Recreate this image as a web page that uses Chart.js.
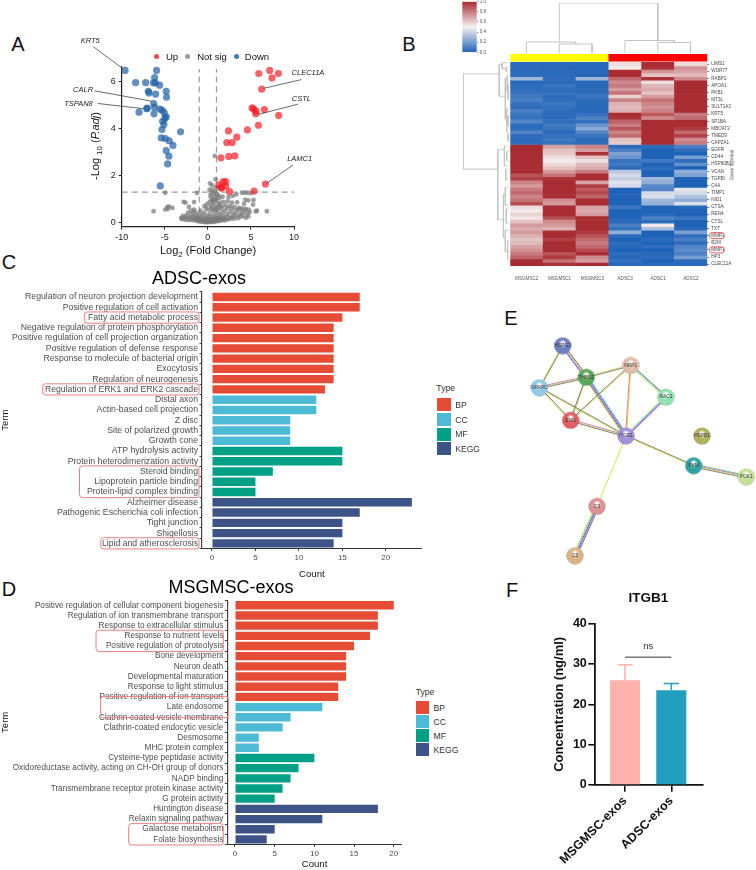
<!DOCTYPE html>
<html>
<head>
<meta charset="utf-8">
<title>Exosome figure</title>
<script src="https://cdn.jsdelivr.net/npm/chart.js@4"></script>
<style>
  html, body { margin: 0; padding: 0; background: #fff; }
  #page { position: relative; width: 756px; height: 870px; overflow: hidden; font-family: "Liberation Sans", Arial, sans-serif; }
  #page canvas { position: absolute; }
  .txt { position: absolute; white-space: nowrap; line-height: 1; transform: translate(-50%, -50%); color: #111; }
  .txt sub { font-size: 0.72em; }
  .box { position: absolute; }
</style>
</head>
<body>
<div id="page"></div>
<script>
// Panel A - volcano
var upPoints = [[7.18,6.49],[5.91,6.36],[8.19,6.36],[7.45,6.17],[6.25,5.69],[5.14,4.89],[5.33,4.84],[5.6,4.75],[5.56,4.64],[6.56,4.82],[8.22,4.57],[5.87,4.15],[4.59,3.95],[2.39,3.91],[3.36,3.64],[2.2,3.41],[2.82,3.41],[1.51,2.76],[2.43,2.82],[3.13,2.84],[6.68,1.64],[1.78,1.74],[2.08,1.75],[1.27,1.61],[2.08,1.55],[1.51,1.48],[1.62,1.47],[2.51,1.32],[5.37,1.34]];
var downPoints = [[-9.61,6.49],[-5.95,6.49],[-6.18,6.19],[-8.38,5.97],[-7.22,5.97],[-6.33,5.96],[-6.1,5.96],[-5.6,5.86],[-6.91,5.6],[-6.83,5.53],[-4.83,5.6],[-6.06,5.48],[-4.79,5.35],[-6.29,5.08],[-6.18,4.91],[-7.03,4.88],[-7.1,4.86],[-5.56,4.84],[-5.29,4.79],[-7.99,4.71],[-6.25,4.64],[-5.06,4.68],[-4.83,4.51],[-4.98,4.44],[-5.25,4.32],[-5.1,4.18],[-5.33,3.97],[-3.17,3.87],[-5.41,3.61],[-4.94,3.58],[-4.48,3.49],[-4.05,3.29],[-4.83,3.07],[-4.52,2.83],[-4.67,2.5],[-5.52,1.56]];
var notSigPoints = [[0.8,2.84],[0.9,1.85],[0.25,1.67],[0.5,1.58],[0.95,1.5],[0.2,1.4],[0.55,1.38],[0.85,1.32],[-1.25,1.26],[-4.95,1.27],[0.35,1.25],[0.65,1.2],[1.05,1.22],[1.2,1.15],[0.3,1.12],[0.75,1.08],[1.0,1.02],[0.45,0.98],[1.35,1.05],[1.7,1.1],[2.4,1.08],[2.9,1.14],[3.3,1.2],[3.95,1.27],[4.3,1.27],[4.6,1.27],[5.0,1.25],[4.35,0.98],[4.7,0.94],[5.3,0.96],[5.25,0.76],[4.2,0.8],[3.4,0.86],[2.8,0.85],[2.3,0.9],[1.8,0.88],[1.4,0.85],[0.95,0.9],[0.6,0.85],[0.2,0.88],[-0.1,0.78],[-0.4,0.7],[0.35,0.72],[0.8,0.72],[1.25,0.7],[1.65,0.68],[2.05,0.72],[2.6,0.7],[3.1,0.66],[3.6,0.62],[4.0,0.6],[4.4,0.58],[4.75,0.55],[5.55,0.47],[6.85,0.48],[-2.8,0.88],[-2.6,0.85],[-1.6,0.87],[-6.3,0.48],[-4.95,0.55],[-4.7,0.66],[-4.5,0.68],[-4.1,0.62],[-4.65,0.58],[-2.2,0.66],[-1.6,0.55],
  [-3.1,0.2],[-3.0,0.14],[-2.9,0.28],[-2.7,0.18],[-2.6,0.12],[-2.5,0.3],[-2.4,0.2],[-2.3,0.42],[-2.25,0.1],[-2.1,0.24],[-2.0,0.16],[-1.95,0.5],[-1.85,0.34],[-1.8,0.1],[-1.7,0.22],[-1.6,0.14],[-1.55,0.46],[-1.5,0.3],[-1.4,0.08],[-1.35,0.2],[-1.3,0.13],[-1.2,0.38],[-1.15,0.06],[-1.1,0.17],[-1.0,0.26],[-0.95,0.1],[-0.9,0.04],[-0.85,0.5],[-0.8,0.16],[-0.75,0.07],[-0.7,0.33],[-0.6,0.03],[-0.55,0.12],[-0.5,0.22],[-0.45,0.06],[-0.4,0.42],[-0.35,0.02],[-0.3,0.1],[-0.25,0.16],[-0.2,0.04],[-0.15,0.28],[-0.1,0.01],[-0.05,0.08],[0,0.14],[0.05,0.03],[0.1,0.2],[0.15,0.06],[0.2,0.36],[0.25,0.02],[0.3,0.12],[0.35,0.05],[0.4,0.24],[0.45,0.09],[0.5,0.02],[0.55,0.5],[0.6,0.15],[0.65,0.06],[0.7,0.3],[0.75,0.03],[0.8,0.1],[0.85,0.2],[0.9,0.6],[0.95,0.08],[1.0,0.42],[1.05,0.14],[1.1,0.05],[1.15,0.26],[1.2,0.55],[1.25,0.1],[1.3,0.18],[1.4,0.36],[1.45,0.07],[1.5,0.62],[1.55,0.22],[1.6,0.12],[1.7,0.44],[1.75,0.16],[1.85,0.28],[1.9,0.08],[2.0,0.52],[2.05,0.2],[2.15,0.12],[2.25,0.36],[2.3,0.62],[2.4,0.24],[2.5,0.14],[2.6,0.45],[2.7,0.2],[2.8,0.58],[2.9,0.3],[3.0,0.16],[3.1,0.4],[3.25,0.26],[3.35,0.52],[3.5,0.18],[3.6,0.34],[3.7,0.56],[3.85,0.24],[3.95,0.42],[4.1,0.3],[4.25,0.5],[4.4,0.2],[4.55,0.38],[4.7,0.26],[4.85,0.44],[5.7,0.5],[0.1,0.55],[0.4,0.62],[-0.2,0.6],[0.75,0.55],[1.3,0.75],[0.6,0.95]];
var volcanoCutoffs = { fcLow: -1, fcHigh: 1, padj: 1.3, xFrom: -10, xTo: 10, yFrom: 0, yTo: 6.55 };
var geneNotes = [
  { gene: 'KRT5', text: [-13.65, 7.75], from: [-13.28, 7.5], to: [-9.88, 6.57] },
  { gene: 'CALR', text: [-14.48, 5.65], from: [-13.17, 5.62], to: [-6.53, 5.18] },
  { gene: 'TSPAN8', text: [-15.02, 5.08], from: [-12.78, 5.08], to: [-7.49, 4.86] },
  { gene: 'CLEC11A', text: [11.62, 6.4], from: [10.85, 6.1], to: [6.41, 5.72] },
  { gene: 'CSTL', text: [10.85, 5.26], from: [10.46, 5.05], to: [5.83, 4.61] },
  { gene: 'LAMC1', text: [10.66, 2.7], from: [9.88, 2.45], to: [6.8, 1.66] }
];
var volcanoXTicks = [-10, -5, 0, 5, 10];
var volcanoYTicks = [0, 2, 4, 6];

// Panel B - heatmap
var sampleLabels = ['MSGMSC2', 'MSGMSC1', 'MSGMSC3', 'ADSC3', 'ADSC1', 'ADSC2'];
var geneLabels = ['LIMS1','WDR77','RABP1','APOA1','PKB1','MT3L','SULT1A3','KRT5','SP1BA','MBOAT2','TMED9','CAPZA1','EGFR','CD44','HSP90B1','VCAN','TGFBI','C4A','TIMP1','NID1','CTSA','REN4','CTSL','TXT','MMP1','B2M','MMP1','HP3','CLEC11A'];
var cellsMSG2 = [.03,.03,.02,.03,.3,.02,.03,.04,.05,.08,.1,.05,.03,.1,.07,.05,.12,.03,.03,.12,.04,.03,.04, 1,1,1,1,1,1,1,1,.9,.95,.78,.72,.8,.85,.78,.82,.92,.55,.52,.58,.53,.62,.72,.68,.72,.66,.62,.64,.7,.74,.8,.86,1,1];
var cellsMSG1 = [.03,.02,.02,.03,.04,.02,.06,.03,.05,.03,.04,.07,.05,.03,.03,.03,.04,.08,.06,.03,.05,.08,.05, .7,.62,.6,.55,.52,.56,.62,.72,.82,.98,1,1,1,1,1,.75,.72,1,1,1,.92,.76,.72,.66,1,1,.95,1,1,1,.9,.96,.82,.98];
var cellsMSG3 = [.02,.02,.02,.02,.3,.02,.02,.03,.03,.06,.03,.02,.02,.02,.05,.1,.05,.18,.25,.12,.06,.03,.04, .78,.72,.98,.62,.55,.64,.68,.8,1,1,.7,.95,.88,.93,.85,1,1,.7,.68,.72,1,1,1,1,.96,.9,.84,.8,.84,.92,1,.76,.72,1];
var cellsADSC3 = [.55,.52,1,1,.85,.76,.8,.72,.82,.58,.78,.66,.64,.66,1,.98,.86,.8,.9,.78,.84,.62,.6, .03,.1,.22,.18,.05,.08,.03,.36,.42,.38,.45,.42,0,0,0,0,0,.07,0,0,0,.02,.1,.05,.27,.03,0,.03,.02,0,.03,.02,.05,.02];
var cellsADSC1 = [1,.98,.74,.62,.98,.55,.65,.68,.62,.72,.82,.78,.74,.78,.88,.76,1,1,1,1,1,1,1, .03,0,0,0,.08,0,.02,0,0,.3,.26,.13,.12,.42,.44,.3,.28,0,0,.02,.1,.03,.52,.33,0,0,.03,0,.04,0,.02,.03,0,.02];
var cellsADSC2 = [.56,.74,.7,.64,.76,1,1,1,1,1,1,1,1,1,.8,.84,1,1,.96,.84,.94,.76,.8, .1,.04,0,.2,.04,.16,0,.26,.22,0,0,0,.46,.42,.34,.26,.44,.02,0,0,.06,0,0,.02,.22,.04,.1,.04,.12,.14,.1,.2,.03,.02];
var heatColumns = [cellsMSG2, cellsMSG1, cellsMSG3, cellsADSC3, cellsADSC1, cellsADSC2];
var groupColours = ['#ffff00', '#ffff00', '#ffff00', '#ff0000', '#ff0000', '#ff0000'];
var colourbarTicks = [0, 0.2, 0.4, 0.6, 0.8, 1];
var highlightedGeneRows = [24, 26];
var sampleTree = [
  [[1.5, 0.22], [1.5, 1], [4.5, 1], [4.5, 0.25]],
  [[0.5, 0], [0.5, 0.22], [2, 0.22], [2, 0.18]],
  [[1.5, 0], [1.5, 0.18], [2.5, 0.18], [2.5, 0]],
  [[3.5, 0], [3.5, 0.25], [5, 0.25], [5, 0.21]],
  [[4.5, 0], [4.5, 0.21], [5.5, 0.21], [5.5, 0]]
];
var geneTree = [
  [[0.23, 3.3], [1, 3.3], [1, 29.9], [0.26, 29.9]],
  [[0.17, 0.7], [0.23, 0.7], [0.23, 9.6], [0.1, 9.6]],
  [[0.07, 0.2], [0.17, 0.2], [0.17, 1.9], [0.08, 1.9]],
  [[0.05, 1.4], [0.08, 1.4], [0.08, 2.6], [0.05, 2.6]],
  [[0.06, 4.5], [0.1, 4.5], [0.1, 16], [0.07, 16]],
  [[0.03, 3.8], [0.06, 3.8], [0.06, 8.5], [0.04, 8.5]],
  [[0.02, 6.5], [0.04, 6.5], [0.04, 10.5], [0.02, 10.5]],
  [[0.04, 13], [0.07, 13], [0.07, 19.5], [0.04, 19.5]],
  [[0.02, 15], [0.04, 15], [0.04, 18], [0.02, 18]],
  [[0.02, 20], [0.04, 20], [0.04, 22], [0.02, 22]],
  [[0.12, 24.5], [0.26, 24.5], [0.26, 44], [0.14, 44]],
  [[0.07, 23.5], [0.12, 23.5], [0.12, 29], [0.05, 29]],
  [[0.03, 25], [0.07, 25], [0.07, 27.5], [0.03, 27.5]],
  [[0.05, 30], [0.09, 30], [0.09, 33], [0.05, 33]],
  [[0.1, 37], [0.14, 37], [0.14, 49], [0.1, 49]],
  [[0.04, 35], [0.1, 35], [0.1, 40], [0.04, 40]],
  [[0.04, 41], [0.08, 41], [0.08, 45], [0.04, 45]],
  [[0.03, 47], [0.1, 47], [0.1, 53], [0.03, 53]],
  [[0.02, 50], [0.05, 50], [0.05, 55], [0.02, 55]]
];

// Panel C / D - enrichment bars
var typeNames = ['BP', 'CC', 'MF', 'KEGG'];
var typeColours = ['#e64b35', '#4dbbd5', '#00a087', '#3c5488'];
var adscTerms = ['Regulation of neuron projection development','Positive regulation of cell activation','Fatty acid metabolic process','Negative regulation of protein phosphorylation','Positive regulation of cell projection organization','Positive regulation of defense response','Response to molecule of bacterial origin','Exocytosis','Regulation of neurogenesis','Regulation of ERK1 and ERK2 cascade','Distal axon','Actin-based cell projection','Z disc','Site of polarized growth','Growth cone','ATP hydrolysis activity','Protein heterodimerization activity','Steroid binding','Lipoprotein particle binding','Protein-lipid complex binding','Alzheimer disease','Pathogenic Escherichia coli infection','Tight junction','Shigellosis','Lipid and atherosclerosis'];
var adscCounts = [17,17,15,14,14,14,14,14,14,13,12,12,9,9,9,15,15,7,5,5,23,17,15,15,14];
var adscTypes = [0,0,0,0,0,0,0,0,0,0,1,1,1,1,1,2,2,2,2,2,3,3,3,3,3];
var msgTerms = ['Positive regulation of cellular component biogenesis','Regulation of ion transmembrane transport','Response to extracellular stimulus','Response to nutrient levels','Positive regulation of proteolysis','Bone development','Neuron death','Developmental maturation','Response to light stimulus','Positive regulation of ion transport','Late endosome','Clathrin-coated vesicle membrane','Clathrin-coated endocytic vesicle','Desmosome','MHC protein complex','Cysteine-type peptidase activity','Oxidoreductase activity, acting on CH-OH group of donors','NADP binding','Transmembrane receptor protein kinase activity','G protein activity','Huntington disease','Relaxin signaling pathway','Galactose metabolism','Folate biosynthesis'];
var msgCounts = [20,18,18,17,15,14,14,14,13,13,11,7,6,3,3,10,8,7,6,5,18,11,5,4];
var msgTypes = [0,0,0,0,0,0,0,0,0,0,1,1,1,1,1,2,2,2,2,2,3,3,3,3];
var adscCountTicks = [0, 5, 10, 15, 20];
var msgCountTicks = [0, 5, 10, 15, 20];
var adscMarked = [[2, 2, 84.3], [9, 9, 42.7], [17, 19, 79.5], [24, 24, 100.7]];
var msgMarked = [[3, 4, 96, 223.3], [9.5, 10.5, 100.7, 228.3], [22, 23, 128.7, 223.3]];

// Panel E - network
var nodeNames = ['HSPG2','THBS1','NRP1','SPARC','RAC1','ENG','ITGB1','HSPB1','PKM','PGK1','C3','C5'];
var nodeX = [188,259,392,118,498,212,378,606,581,739,291,225];
var nodeY = [137,232,196,263,291,361,408,408,497,530,619,767];
var nodeColours = ['#6f7fc4','#58a858','#e2bcab','#92c8ea','#92e2b2','#e25a62','#a392da','#b2b25e','#2fa3a3','#c2e296','#da9292','#dab284'];
var edges = [
  ['HSPG2','SPARC',['#666','#c8dc4a']],
  ['HSPG2','THBS1',['#555','#c8dc4a','#c868d8','#5050c8']],
  ['SPARC','THBS1',['#c868d8','#c8dc4a','#777']],
  ['THBS1','NRP1',['#c8dc4a','#777']],
  ['THBS1','ENG',['#c8dc4a','#666']],
  ['THBS1','ITGB1',['#50c8e0','#5050c8','#c868d8','#555','#c8dc4a']],
  ['SPARC','ENG',['#666','#c8dc4a']],
  ['SPARC','ITGB1',['#666','#c8dc4a']],
  ['ENG','NRP1',['#666','#c8dc4a']],
  ['ENG','ITGB1',['#c868d8','#c8dc4a','#777']],
  ['NRP1','ITGB1',['#c8dc4a','#f07070']],
  ['NRP1','RAC1',['#666','#50c8e0','#c8dc4a']],
  ['RAC1','ITGB1',['#c868d8','#5050c8','#50c8e0','#c8dc4a']],
  ['ITGB1','PKM',['#666','#c8dc4a']],
  ['ITGB1','C3',['#c8dc4a']],
  ['C3','C5',['#5050c8','#c868d8','#666','#50c8e0','#c8dc4a']],
  ['PKM','PGK1',['#58c078','#c868d8','#c8dc4a','#777']]
];

// Panel F - ITGB1 bars
var itgbCategories = ['MSGMSC-exos', 'ADSC-exos'];
var itgbValues = [26, 23.5];
var itgbErrorTops = [29.8, 25.2];
var itgbColours = ['#ffb1ac', '#229fbe'];
var itgbTicks = [0, 10, 20, 30, 40];

var BASE_FONT = '"Liberation Sans", Arial, sans-serif';
var page = document.getElementById('page');

function addCanvas(left, top, width, height) {
  var c = document.createElement('canvas');
  c.width = width;
  c.height = height;
  c.style.left = left + 'px';
  c.style.top = top + 'px';
  c.style.width = width + 'px';
  c.style.height = height + 'px';
  page.appendChild(c);
  return c;
}

function addText(html, x, y, size, extra) {
  var d = document.createElement('div');
  d.className = 'txt';
  d.innerHTML = html;
  d.style.left = x + 'px';
  d.style.top = y + 'px';
  d.style.fontSize = size + 'px';
  if (extra) {
    Object.keys(extra).forEach(function (k) { d.style[k] = extra[k]; });
  }
  page.appendChild(d);
  return d;
}

function addBox(x, y, w, h, colour, round) {
  var d = document.createElement('div');
  d.className = 'box';
  d.style.left = x + 'px';
  d.style.top = y + 'px';
  d.style.width = w + 'px';
  d.style.height = h + 'px';
  d.style.background = colour;
  if (round) d.style.borderRadius = '50%';
  page.appendChild(d);
}

function setTicks(values) {
  return function (scale) {
    scale.ticks = values.map(function (v) { return { value: v }; });
  };
}

// fixed axis boxes so the plot areas land where the figure has them
function fixWidth(w) {
  return function (scale) {
    scale.width = w;
    scale.paddingTop = 0;
    scale.paddingBottom = 0;
  };
}
function fixHeight(h) {
  return function (scale) {
    scale.height = h;
    scale.paddingLeft = 0;
    scale.paddingRight = 0;
  };
}

function heatColour(v) {
  var low = [31, 99, 184], mid = [246, 241, 241], high = [168, 44, 50];
  var a = v < 0.5 ? low : mid;
  var b = v < 0.5 ? mid : high;
  var t = v < 0.5 ? v / 0.5 : (v - 0.5) / 0.5;
  return 'rgb(' + a.map(function (c, i) { return Math.round(c + (b[i] - c) * t); }).join(',') + ')';
}

// panel letters
addText('A', 18, 44, 20);
addText('B', 409, 44, 20);
addText('C', 9, 262, 20);
addText('D', 9, 589, 20);
addText('E', 511, 318, 20);
addText('F', 512, 590, 20);

// ---- A ----
var noteTextPlugin = {
  id: 'noteText',
  afterDatasetsDraw: function (chart) {
    var ctx = chart.ctx;
    ctx.save();
    ctx.font = 'italic 7.5px ' + BASE_FONT;
    ctx.fillStyle = '#222';
    ctx.textAlign = 'center';
    ctx.textBaseline = 'middle';
    geneNotes.forEach(function (n) {
      ctx.fillText(n.gene, chart.scales.x.getPixelForValue(n.text[0]), chart.scales.y.getPixelForValue(n.text[1]));
    });
    ctx.restore();
  }
};

function toXY(p) { return { x: p[0], y: p[1] }; }

function volcanoDots(points, colour, radius, order) {
  return { data: points.map(toXY), backgroundColor: colour, borderWidth: 0, pointRadius: radius, order: order, clip: false };
}

function guide(points) {
  return { data: points, showLine: true, pointRadius: 0, borderColor: '#9a9a9a', borderWidth: 1.2, borderDash: [6, 4], order: 4, clip: false };
}

var volcanoSets = [
  volcanoDots(upPoints, 'rgba(248,24,32,0.68)', 3.6, 1),
  volcanoDots(downPoints, 'rgba(30,96,164,0.7)', 3.6, 1),
  volcanoDots(notSigPoints, 'rgba(122,122,122,0.72)', 2.4, 2),
  guide([{ x: volcanoCutoffs.fcLow, y: volcanoCutoffs.yFrom }, { x: volcanoCutoffs.fcLow, y: volcanoCutoffs.yTo }]),
  guide([{ x: volcanoCutoffs.fcHigh, y: volcanoCutoffs.yFrom }, { x: volcanoCutoffs.fcHigh, y: volcanoCutoffs.yTo }]),
  guide([{ x: volcanoCutoffs.xFrom, y: volcanoCutoffs.padj }, { x: volcanoCutoffs.xTo, y: volcanoCutoffs.padj }])
];
geneNotes.forEach(function (n) {
  volcanoSets.push({ data: [toXY(n.from), toXY(n.to)], showLine: true, pointRadius: 0, borderColor: '#444', borderWidth: 0.8, order: 0, clip: false });
});

new Chart(addCanvas(0, 20, 330, 230), {
  type: 'scatter',
  data: { datasets: volcanoSets },
  options: {
    responsive: false,
    animation: false,
    layout: { autoPadding: false, padding: { top: 46.7, right: 36, left: 0, bottom: 0 } },
    plugins: { legend: { display: false }, tooltip: { enabled: false } },
    scales: {
      x: {
        min: -10, max: 10,
        afterBuildTicks: setTicks(volcanoXTicks),
        afterFit: fixHeight(23.3),
        grid: { display: true, drawOnChartArea: false, drawTicks: true, tickLength: 3, color: '#222' },
        border: { display: true, color: '#222', width: 1.2 },
        ticks: { color: '#222', font: { size: 9, family: BASE_FONT }, padding: 2, maxRotation: 0, callback: function (v) { return String(v); } }
      },
      y: {
        min: -0.18, max: 6.65,
        afterBuildTicks: setTicks(volcanoYTicks),
        afterFit: fixWidth(121.7),
        grid: { display: true, drawOnChartArea: false, drawTicks: true, tickLength: 3, color: '#222' },
        border: { display: true, color: '#222', width: 1.2 },
        ticks: { color: '#222', font: { size: 9, family: BASE_FONT }, padding: 3, callback: function (v) { return String(v); } }
      }
    }
  },
  plugins: [noteTextPlugin]
});
addText('-Log <sub>10</sub> (<i>P.adj</i>)', 97, 146, 11, { transform: 'translate(-50%, -50%) rotate(-90deg)' });
addText('Log<sub>2</sub> (Fold Change)', 208, 252, 11);
addBox(154, 54, 5.4, 5.4, '#f4494f', true);
addText('Up', 172, 57, 9.5);
addBox(185, 54, 5.4, 5.4, '#9a9a9a', true);
addText('Not sig', 212, 57, 9.5);
addBox(233.6, 54, 5.4, 5.4, '#3f7ab5', true);
addText('Down', 257, 57, 9.5);

// ---- B ----
var heatSets = [];
heatSets.push({
  data: sampleLabels.map(function () { return [-2.32, -0.28]; }),
  backgroundColor: groupColours,
  grouped: false, barPercentage: 1, categoryPercentage: 1, borderWidth: 0
});
heatColumns[0].forEach(function (_, row) {
  heatSets.push({
    data: heatColumns.map(function () { return [row, row + 1]; }),
    backgroundColor: heatColumns.map(function (col) { return heatColour(col[row]); }),
    grouped: false, barPercentage: 1, categoryPercentage: 1, borderWidth: 0
  });
});

var markedGenesPlugin = {
  id: 'markedGenes',
  afterDraw: function (chart) {
    var ctx = chart.ctx;
    ctx.save();
    ctx.strokeStyle = '#f06060';
    ctx.lineWidth = 1;
    highlightedGeneRows.forEach(function (i) {
      var y = chart.scales.y.getPixelForValue(i * 2 + 0.5);
      ctx.beginPath();
      ctx.roundRect(chart.chartArea.right + 2.4, y - 3, 14.4, 6, 2);
      ctx.stroke();
    });
    ctx.restore();
  }
};

new Chart(addCanvas(500, 50, 256, 235), {
  type: 'bar',
  data: { labels: sampleLabels, datasets: heatSets },
  options: {
    responsive: false,
    animation: false,
    layout: { autoPadding: false, padding: { left: 10.3, top: 4, right: 0, bottom: 0 } },
    plugins: { legend: { display: false }, tooltip: { enabled: false } },
    scales: {
      x: {
        afterFit: fixHeight(19),
        grid: { display: false },
        border: { display: false },
        ticks: { color: '#555', font: { size: 4.6, family: BASE_FONT }, padding: 2, maxRotation: 0, autoSkip: false }
      },
      y: {
        position: 'right',
        reverse: true,
        min: -2.32, max: 57,
        afterBuildTicks: setTicks(geneLabels.map(function (g, i) { return i * 2 + 0.5; })),
        afterFit: fixWidth(48.7),
        grid: { display: true, drawOnChartArea: false, drawTicks: true, tickLength: 2, color: '#888' },
        border: { display: false },
        ticks: { color: '#444', font: { size: 4.6, family: BASE_FONT }, padding: 2, autoSkip: false, callback: function (v, i) { return geneLabels[i]; } }
      }
    }
  },
  plugins: [markedGenesPlugin]
});
addText('Gene Symbol', 731.7, 165, 5, { transform: 'translate(-50%, -50%) rotate(-90deg)', color: '#444' });

// colour bar
new Chart(addCanvas(455, 0, 45, 58), {
  type: 'bar',
  data: {
    labels: ['scale'],
    datasets: [{
      data: [[0, 1]],
      barPercentage: 1, categoryPercentage: 1, borderWidth: 0,
      backgroundColor: function (c) {
        var a = c.chart.chartArea;
        if (!a) return '#888';
        var g = c.chart.ctx.createLinearGradient(0, a.bottom, 0, a.top);
        [0, 0.25, 0.5, 0.75, 1].forEach(function (s) { g.addColorStop(s, heatColour(s)); });
        return g;
      }
    }]
  },
  options: {
    responsive: false,
    animation: false,
    layout: { autoPadding: false, padding: { left: 7.3, top: 1.7, right: 0, bottom: 5.7 } },
    plugins: { legend: { display: false }, tooltip: { enabled: false } },
    scales: {
      x: { display: false },
      y: {
        position: 'right',
        min: 0, max: 1,
        afterBuildTicks: setTicks(colourbarTicks),
        afterFit: fixWidth(23.3),
        grid: { display: true, drawOnChartArea: false, drawTicks: true, tickLength: 1.5, color: '#888' },
        border: { display: false },
        ticks: { color: '#555', font: { size: 4.6, family: BASE_FONT }, padding: 1.5, callback: function (v) { return v.toFixed(1); } }
      }
    }
  }
});

function treeChart(box, links, xOpts, yOpts) {
  new Chart(addCanvas(box[0], box[1], box[2], box[3]), {
    type: 'scatter',
    data: {
      datasets: links.map(function (link) {
        return { data: link.map(toXY), showLine: true, pointRadius: 0, borderColor: '#c4c4c4', borderWidth: 1, clip: false };
      })
    },
    options: {
      responsive: false,
      animation: false,
      layout: { autoPadding: false },
      plugins: { legend: { display: false }, tooltip: { enabled: false } },
      scales: {
        x: Object.assign({ display: false }, xOpts),
        y: Object.assign({ display: false }, yOpts)
      }
    }
  });
}
treeChart([510.3, 2.7, 197, 50.6], sampleTree, { min: 0, max: 6 }, { min: 0, max: 1 });
treeChart([463.3, 62.3, 47, 203.7], geneTree, { min: 0, max: 1, reverse: true }, { min: 0, max: 57, reverse: true });

// ---- C / D ----
var markedTermsPlugin = {
  id: 'markedTerms',
  afterDraw: function (chart) {
    var spec = chart.options.plugins.markedTerms;
    if (!spec) return;
    var ctx = chart.ctx, yScale = chart.scales.y;
    var left = chart.canvas.offsetLeft;
    ctx.save();
    ctx.strokeStyle = '#f27d7d';
    ctx.lineWidth = 1;
    spec.rows.forEach(function (r) {
      var top = yScale.getPixelForValue(r[0]) - 5.6;
      var bottom = yScale.getPixelForValue(r[1]) + 5.6;
      var x0 = r[2] - left;
      var x1 = (r[3] || spec.rightEdge) - left;
      ctx.beginPath();
      ctx.roundRect(x0, top, x1 - x0, bottom - top, 3);
      ctx.stroke();
    });
    ctx.restore();
  }
};

function termChart(box, area, terms, counts, types, marked, rightEdge, xMin, xMax, countTicks, fontSize) {
  new Chart(addCanvas(box[0], box[1], box[2], box[3]), {
    type: 'bar',
    data: {
      labels: terms,
      datasets: [{
        data: counts,
        backgroundColor: types.map(function (t) { return typeColours[t]; }),
        borderWidth: 0,
        barPercentage: 0.82,
        categoryPercentage: 1
      }]
    },
    options: {
      indexAxis: 'y',
      responsive: false,
      animation: false,
      layout: { autoPadding: false, padding: { top: area.top - box[1], right: box[0] + box[2] - area.right, left: 0, bottom: 0 } },
      plugins: {
        legend: { display: false },
        tooltip: { enabled: false },
        markedTerms: { rows: marked, rightEdge: rightEdge }
      },
      scales: {
        x: {
          min: xMin, max: xMax,
          afterBuildTicks: setTicks(countTicks),
          afterFit: fixHeight(box[1] + box[3] - area.bottom),
          grid: { display: true, drawOnChartArea: false, drawTicks: true, tickLength: 2.5, color: '#444' },
          border: { display: true, color: '#333', width: 1 },
          ticks: { color: '#4d4d4d', font: { size: 8, family: BASE_FONT }, padding: 1.5, maxRotation: 0, callback: function (v) { return String(v); } },
          title: { display: true, text: 'Count', color: '#111', font: { size: 9.6, family: BASE_FONT }, padding: { top: 2, bottom: 0 } }
        },
        y: {
          afterFit: fixWidth(area.left - box[0]),
          grid: { display: true, drawOnChartArea: false, drawTicks: true, tickLength: 2.5, color: '#444' },
          border: { display: true, color: '#444', width: 1.2 },
          ticks: { color: '#4d4d4d', font: { size: fontSize, family: BASE_FONT }, padding: 1.5, autoSkip: false },
          title: { display: true, text: 'Term', color: '#111', font: { size: 9.5, family: BASE_FONT }, padding: 0 }
        }
      }
    },
    plugins: [markedTermsPlugin]
  });
}

termChart([0, 285, 430, 295], { left: 202, right: 421.7, top: 291.9, bottom: 548.5 }, adscTerms, adscCounts, adscTypes, adscMarked, 199, -1.15, 24.13, adscCountTicks, 8.7);
termChart([0, 595, 410, 275], { left: 227.3, right: 401.7, top: 600.2, bottom: 844.5 }, msgTerms, msgCounts, msgTypes, msgMarked, 223.3, -0.97, 21, msgCountTicks, 8.2);

addText('ADSC-exos', 199, 278, 18, { color: '#000' });
addText('MSGMSC-exos', 231, 587, 18, { color: '#000' });

function typeLegend(x, titleY, swatchTops, swatchH, swatchW) {
  addText('Type', x + 9, titleY, 8.6, { color: '#333' });
  typeNames.forEach(function (name, i) {
    addBox(x, swatchTops[i], swatchW, swatchH, typeColours[i]);
    addText(name, x + swatchW + 4.5, swatchTops[i] + swatchH / 2, 8.6, { color: '#333', transform: 'translate(0, -50%)' });
  });
}
typeLegend(436.7, 388, [398.3, 413, 427.7, 442.3], 13.2, 14);
typeLegend(416, 692, [701.3, 715.3, 729.3, 743.3], 13, 13);

// ---- E ----
function sphere(colour) {
  var s = document.createElement('canvas');
  s.width = 18;
  s.height = 18;
  var c = s.getContext('2d');
  var g = c.createRadialGradient(9, 6, 1, 9, 9, 9);
  g.addColorStop(0, '#ffffff');
  g.addColorStop(0.4, colour);
  g.addColorStop(0.88, colour);
  g.addColorStop(1, '#666666');
  c.fillStyle = g;
  c.beginPath();
  c.arc(9, 9, 8.6, 0, Math.PI * 2);
  c.fill();
  return s;
}

var networkPlugin = {
  id: 'networkEdges',
  beforeDatasetsDraw: function (chart) {
    var ctx = chart.ctx, sx = chart.scales.x, sy = chart.scales.y;
    ctx.save();
    ctx.lineWidth = 0.9;
    edges.forEach(function (e) {
      var a = nodeNames.indexOf(e[0]), b = nodeNames.indexOf(e[1]);
      var x0 = sx.getPixelForValue(nodeX[a]), y0 = sy.getPixelForValue(nodeY[a]);
      var x1 = sx.getPixelForValue(nodeX[b]), y1 = sy.getPixelForValue(nodeY[b]);
      var len = Math.hypot(x1 - x0, y1 - y0);
      var nx = -(y1 - y0) / len, ny = (x1 - x0) / len;
      e[2].forEach(function (col, i) {
        var off = (i - (e[2].length - 1) / 2) * 0.9;
        ctx.strokeStyle = col;
        ctx.beginPath();
        ctx.moveTo(x0 + nx * off, y0 + ny * off);
        ctx.lineTo(x1 + nx * off, y1 + ny * off);
        ctx.stroke();
      });
    });
    ctx.restore();
  },
  afterDatasetsDraw: function (chart) {
    var ctx = chart.ctx, sx = chart.scales.x, sy = chart.scales.y;
    ctx.save();
    ctx.font = '4.8px ' + BASE_FONT;
    ctx.fillStyle = '#333';
    ctx.textAlign = 'center';
    ctx.textBaseline = 'middle';
    nodeNames.forEach(function (n, i) {
      ctx.fillText(n, sx.getPixelForValue(nodeX[i]), sy.getPixelForValue(nodeY[i]));
    });
    ctx.restore();
  }
};

new Chart(addCanvas(500, 300, 256, 280), {
  type: 'scatter',
  data: {
    datasets: [{
      data: nodeNames.map(function (n, i) { return { x: nodeX[i], y: nodeY[i] }; }),
      pointStyle: nodeColours.map(sphere),
      pointRadius: 9,
      clip: false
    }]
  },
  options: {
    responsive: false,
    animation: false,
    layout: { autoPadding: false },
    plugins: { legend: { display: false }, tooltip: { enabled: false } },
    scales: {
      x: { display: false, min: 0, max: 768 },
      y: { display: false, min: 0, max: 840, reverse: true }
    }
  },
  plugins: [networkPlugin]
});

// ---- F ----
var errorBarsPlugin = {
  id: 'errorBars',
  beforeDatasetsDraw: function (chart) {
    var ctx = chart.ctx, sx = chart.scales.x, sy = chart.scales.y;
    ctx.save();
    ctx.lineWidth = 1.5;
    itgbValues.forEach(function (v, i) {
      var x = sx.getPixelForValue(i + 1);
      ctx.strokeStyle = itgbColours[i];
      ctx.beginPath();
      ctx.moveTo(x, sy.getPixelForValue(v));
      ctx.lineTo(x, sy.getPixelForValue(itgbErrorTops[i]));
      ctx.moveTo(x - 7.7, sy.getPixelForValue(itgbErrorTops[i]));
      ctx.lineTo(x + 7.7, sy.getPixelForValue(itgbErrorTops[i]));
      ctx.stroke();
    });
    ctx.strokeStyle = '#333';
    ctx.lineWidth = 1;
    ctx.beginPath();
    ctx.moveTo(sx.getPixelForValue(1), sy.getPixelForValue(31.7));
    ctx.lineTo(sx.getPixelForValue(2), sy.getPixelForValue(31.7));
    ctx.stroke();
    ctx.fillStyle = '#333';
    ctx.font = '9.5px ' + BASE_FONT;
    ctx.textAlign = 'center';
    ctx.textBaseline = 'middle';
    ctx.fillText('ns', (sx.getPixelForValue(1) + sx.getPixelForValue(2)) / 2, sy.getPixelForValue(34.5));
    ctx.restore();
  }
};

new Chart(addCanvas(552, 610, 204, 260), {
  type: 'bar',
  data: {
    datasets: [{
      data: itgbValues.map(function (v, i) { return { x: i + 1, y: v }; }),
      backgroundColor: itgbColours,
      borderWidth: 0,
      barPercentage: 0.65,
      categoryPercentage: 1
    }]
  },
  options: {
    responsive: false,
    animation: false,
    layout: { autoPadding: false, padding: { top: 13.7, right: 53.3, left: 0, bottom: 0 } },
    plugins: { legend: { display: false }, tooltip: { enabled: false } },
    scales: {
      x: {
        type: 'linear',
        offset: false,
        min: 0.352, max: 2.678,
        afterBuildTicks: setTicks([1, 2]),
        afterFit: fixHeight(85),
        grid: { display: true, offset: false, drawOnChartArea: false, drawTicks: true, tickLength: 6.7, color: '#111', lineWidth: 1.6 },
        border: { display: true, color: '#111', width: 1.8 },
        ticks: { color: '#111', font: { size: 12.5, weight: 'bold', family: BASE_FONT }, padding: 2, minRotation: 45, maxRotation: 45, callback: function (v) { return itgbCategories[v - 1]; } }
      },
      y: {
        min: 0, max: 40,
        afterBuildTicks: setTicks(itgbTicks),
        afterFit: fixWidth(43),
        grid: { display: true, drawOnChartArea: false, drawTicks: true, tickLength: 6.7, color: '#111', lineWidth: 1.6 },
        border: { display: true, color: '#111', width: 1.8 },
        ticks: { color: '#111', font: { size: 12.5, weight: 'bold', family: BASE_FONT }, padding: 1.5, callback: function (v) { return String(v); } },
        title: { display: true, text: 'Concentration (ng/ml)', color: '#111', font: { size: 13, weight: 'bold', family: BASE_FONT }, padding: 0 }
      }
    }
  },
  plugins: [errorBarsPlugin]
});
addText('ITGB1', 648.3, 597.7, 13.5, { fontWeight: 'bold', color: '#111' });
</script>
</body>
</html>
